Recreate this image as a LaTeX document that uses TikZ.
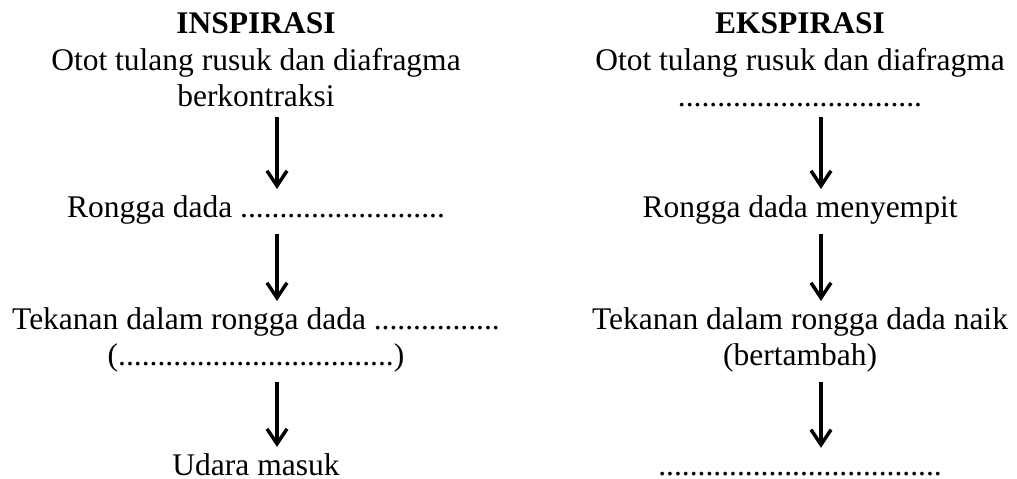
\documentclass[tikz,border=0pt]{standalone}
\usepackage{fontspec}
\setmainfont{Liberation Serif}
\usetikzlibrary{arrows.meta}
\tikzset{
  title/.style={font=\fontsize{31.5}{36}\selectfont\bfseries,inner sep=0pt,anchor=base},
  stage/.style={font=\fontsize{31.5}{36}\selectfont,align=center,inner sep=0pt,anchor=base},
  flow/.style={-{Straight Barb[length=15pt,width=20pt]},line width=3.5pt,shorten <=10pt,shorten >=6pt}
}

\begin{document}
\begin{tikzpicture}[x=1pt,y=1pt]
\useasboundingbox (0,0) rectangle (1017,-479);
% inspirasi column
\node[title] (inhead) at (256,-33) {INSPIRASI};
\node[stage] (in1) at (256,-106) {Otot tulang rusuk dan diafragma\\berkontraksi};
\node[stage] (in2) at (256,-217) {Rongga dada ..........................};
\node[stage] (in3) at (256,-365) {Tekanan dalam rongga dada ................\\(...................................)};
\node[stage] (in4) at (256,-475) {Udara masuk};
% ekspirasi column
\node[title] (exhead) at (800,-33) {EKSPIRASI};
\node[stage] (ex1) at (800,-106) {Otot tulang rusuk dan diafragma\\...............................};
\node[stage] (ex2) at (800,-217) {Rongga dada menyempit};
\node[stage] (ex3) at (800,-365) {Tekanan dalam rongga dada naik\\(bertambah)};
\node[stage,text height=21pt] (ex4) at (800,-475) {....................................};
\draw[flow]([xshift=21pt]in1.south)--([xshift=21pt]in2.north);
\draw[flow]([xshift=21pt]in2.south)--([xshift=21pt]in3.north);
\draw[flow]([xshift=21pt]in3.south)--([xshift=21pt]in4.north);
\draw[flow]([xshift=21pt]ex1.south)--([xshift=21pt]ex2.north);
\draw[flow]([xshift=21pt]ex2.south)--([xshift=21pt]ex3.north);
\draw[flow]([xshift=21pt]ex3.south)--([xshift=21pt]ex4.north);
\end{tikzpicture}
\end{document}
